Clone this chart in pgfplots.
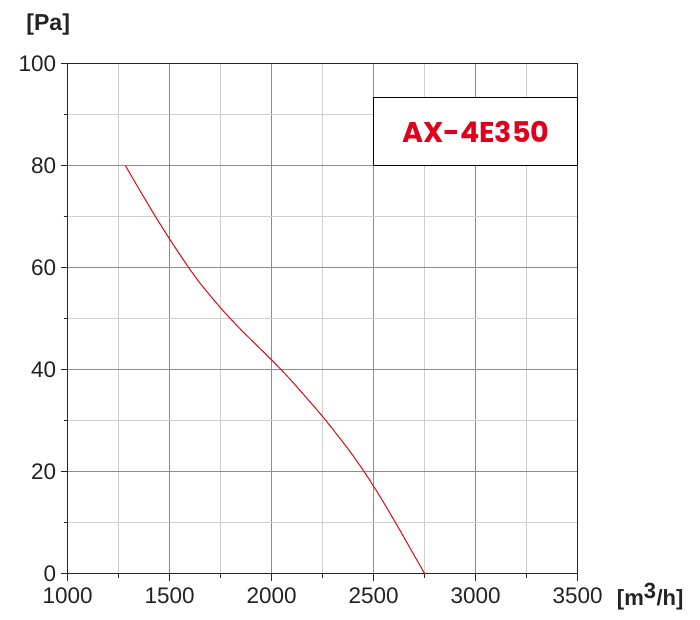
\documentclass[border=0pt]{standalone}
\usepackage{fontspec}
\setmainfont{Liberation Sans}
\newfontfamily\titlefont{Poppins}
\usepackage{pgfplots}
\pgfplotsset{compat=1.18}
\definecolor{curvered}{HTML}{E30613}
\definecolor{titlered}{HTML}{E0001B}
\definecolor{majgrid}{HTML}{8C8C8C}
\definecolor{mingrid}{HTML}{CFCFCF}
\definecolor{txt}{HTML}{222222}
\begin{document}
\begin{tikzpicture}
\path[use as bounding box] (-67.7pt,-45.3pt) rectangle (632.3pt,573.7pt);
\begin{axis}[
  scale only axis,
  width=510pt, height=510pt,
  at={(0pt,0pt)}, anchor=south west,
  xmin=1000, xmax=3500, ymin=0, ymax=100,
  xtick={1000,1500,...,3500},
  ytick={0,20,...,100},
  minor xtick={1250,1750,...,3250},
  minor ytick={10,30,...,90},
  grid=both,
  major grid style={majgrid, line width=0.9pt},
  minor grid style={mingrid, line width=0.9pt},
  axis line style={black!85, line width=1pt},
  tick align=outside,
  tick pos=left,
  major tick length=7pt,
  minor tick length=4pt,
  every tick/.style={black!85, line width=1pt},
  /pgf/number format/assume math mode=true,
  /pgf/number format/1000 sep={},
  ticklabel style={font=\fontsize{22.5}{26}\selectfont, text=txt},
  xticklabel style={yshift=-4pt},
  yticklabel style={xshift=-1pt},
  clip=false,
]
\addplot[curvered, line width=1pt, smooth, tension=0.4] coordinates {
  (1283,80) (1350,75.4) (1426,70.3) (1500,65.6) (1583,60.6) (1650,56.9)
  (1750,52.1) (1850,47.8) (2000,41.9) (2100,37.7) (2250,30.8) (2370,24.7)
  (2450,20.2) (2530,15.2) (2613,9.6) (2690,4.2) (2750,0)
};
\draw[black, line width=1pt, fill=white] (axis cs:2500,80) rectangle (axis cs:3500,93.4);
\node[text=titlered, font=\titlefont\bfseries\fontsize{28.5}{32}\selectfont] at (axis cs:3000,86.6) {AX-4E350};
\end{axis}
\node[text=txt, font=\bfseries\fontsize{23}{27}\selectfont] at (-19.5pt,549.5pt) {[Pa]};
\node[text=txt, font=\bfseries\fontsize{22}{26}\selectfont] at (582.5pt,-23pt) {[m\textsuperscript{\fontsize{22}{26}\selectfont 3}/h]};
\end{tikzpicture}
\end{document}
